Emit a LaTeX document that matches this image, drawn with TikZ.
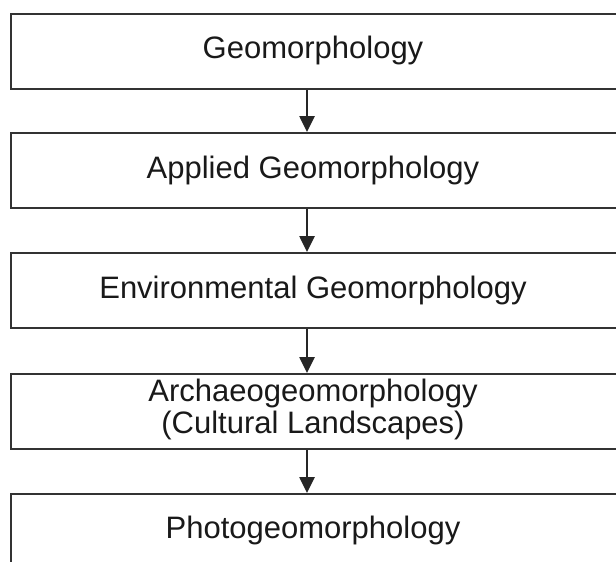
\documentclass[tikz,border=0pt]{standalone}
\usepackage{fontspec}
\setmainfont{Liberation Sans}
\usetikzlibrary{arrows.meta}
\begin{document}
\begin{tikzpicture}[x=1pt,y=-1pt,
  box/.style={draw=black!80, line width=2.2pt, rectangle, anchor=north west,
    minimum width=640pt, minimum height=75pt, inner sep=0pt},
  lbl/.style={font=\fontsize{31}{32}\selectfont, text=black!90, align=center, inner sep=0pt, anchor=base},
  arr/.style={draw=black!85, line width=2.6pt, -{Triangle[length=16pt,width=15pt]}}]
\useasboundingbox (0,0) rectangle (616,562);
\clip (0,0) rectangle (616,562);
\coordinate (ax) at (307,0);
\node[box] (b1) at (10,13) {};
\node[box] (b2) at (10,132) {};
\node[box] (b3) at (10,252) {};
\node[box] (b4) at (10,373) {};
\node[box] (b5) at (10,493) {};
\node[lbl] (t1) at (313,58) {Geomorphology};
\node[lbl] (t2) at (313,178) {Applied Geomorphology};
\node[lbl] (t3) at (313,298) {Environmental Geomorphology};
\node[lbl] (t4a) at (313,401) {Archaeogeomorphology};
\node[lbl] (t4b) at (313,433) {(Cultural Landscapes)};
\node[lbl] (t5) at (313,538) {Photogeomorphology};
\draw[arr] (b1.south -| ax) -- (b2.north -| ax);
\draw[arr] (b2.south -| ax) -- (b3.north -| ax);
\draw[arr] (b3.south -| ax) -- (b4.north -| ax);
\draw[arr] (b4.south -| ax) -- (b5.north -| ax);
\end{tikzpicture}
\end{document}
